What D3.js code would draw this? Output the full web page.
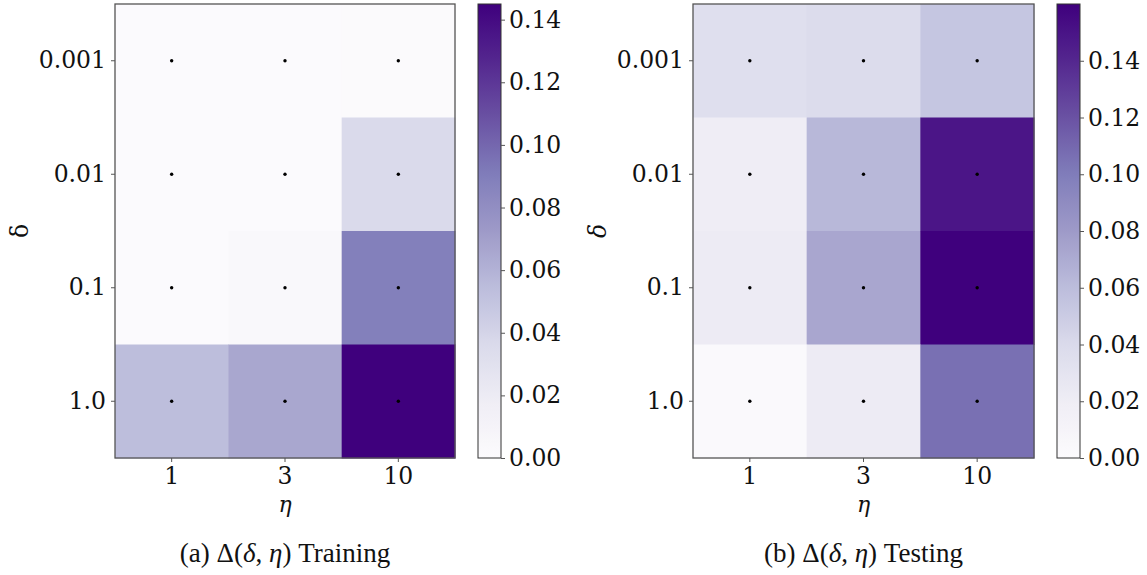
<!DOCTYPE html>
<html><head><meta charset="utf-8">
<script src="https://cdn.jsdelivr.net/npm/d3@7"></script>
<style>
html,body{margin:0;padding:0;background:#fff;}
svg{display:block;}
</style></head>
<body>
<svg id="chart" width="1147" height="575"></svg>
<script>
// ---- data ----
const etaLabels = ["1", "3", "10"];
const deltaLabels = ["0.001", "0.01", "0.1", "1.0"];
const trainValues = [
  [0.0008, 0.0008, 0.0012],
  [0.0008, 0.0008, 0.036],
  [0.0010, 0.0035, 0.089],
  [0.054, 0.066, 0.145]
];
const testValues = [
  [0.035, 0.038, 0.054],
  [0.020, 0.063, 0.149],
  [0.022, 0.073, 0.160],
  [0.003, 0.022, 0.106]
];
const trainTicks = [0.00, 0.02, 0.04, 0.06, 0.08, 0.10, 0.12, 0.14];
const testTicks = [0.00, 0.02, 0.04, 0.06, 0.08, 0.10, 0.12, 0.14];
const trainMax = 0.145;
const testMax = 0.160;
const captionPrefix = ["(a) ", "(b) "];
const captionSuffix = [" Training", " Testing"];

// matplotlib "Purples" (linear segments over colorbrewer 9)
const purples = ["#fcfbfd","#efedf5","#dadaeb","#bcbddc","#9e9ac8","#807dba","#6a51a3","#54278f","#3f007d"];
const purpInterp = d3.piecewise(d3.interpolateRgb, purples);

const svg = d3.select("#chart");
const FONT = "'DejaVu Serif', serif";
const FS = 23.5;

function panel(cfg) {
  const {x0, x1, y0, y1, values, vmax, ticks, cbx0, cbx1, idx, italicDelta} = cfg;
  const g = svg.append("g");
  const xs = d3.scaleBand().domain(etaLabels).range([x0, x1]).padding(0);
  const ys = d3.scaleBand().domain(deltaLabels).range([y0, y1]).padding(0);
  const cs = d3.scaleSequential(purpInterp).domain([0, vmax]).clamp(true);

  const cells = [];
  values.forEach((row, i) => row.forEach((v, j) => cells.push({d: deltaLabels[i], e: etaLabels[j], v})));

  g.selectAll("rect.cell").data(cells).join("rect")
    .attr("x", d => xs(d.e)).attr("y", d => ys(d.d))
    .attr("width", xs.bandwidth() + 0.5).attr("height", ys.bandwidth() + 0.5)
    .attr("fill", d => cs(d.v));

  g.selectAll("circle.dot").data(cells).join("circle")
    .attr("cx", d => xs(d.e) + xs.bandwidth() / 2)
    .attr("cy", d => ys(d.d) + ys.bandwidth() / 2)
    .attr("r", 1.7).attr("fill", "#000");

  // frame
  g.append("rect").attr("x", x0).attr("y", y0).attr("width", x1 - x0).attr("height", y1 - y0)
    .attr("fill", "none").attr("stroke", "#555").attr("stroke-width", 1.3);

  // axes
  const xAxis = d3.axisBottom(xs).tickSize(4).tickPadding(5);
  const gx = g.append("g").attr("transform", `translate(0,${y1})`).call(xAxis);
  const yAxis = d3.axisLeft(ys).tickSize(4).tickPadding(5);
  const gy = g.append("g").attr("transform", `translate(${x0},0)`).call(yAxis);
  [gx, gy].forEach(a => {
    a.select(".domain").remove();
    a.selectAll(".tick line").attr("stroke", "#555").attr("stroke-width", 1);
    a.selectAll(".tick text").attr("font-family", FONT).attr("font-size", FS).attr("fill", "#111");
  });

  // axis labels
  g.append("text").attr("x", (x0 + x1) / 2).attr("y", 512)
    .attr("text-anchor", "middle").attr("font-family", FONT).attr("font-style", "italic")
    .attr("font-size", 22).attr("fill", "#111").text("η");
  g.append("text").attr("transform", `translate(${x0 - 87},${(y0 + y1) / 2}) rotate(-90)`)
    .attr("text-anchor", "middle").attr("font-family", FONT)
    .attr("font-style", italicDelta ? "italic" : "normal")
    .attr("font-size", FS).attr("fill", "#111").text("δ");

  // colorbar
  const gid = "cbgrad" + idx;
  const grad = svg.append("defs").append("linearGradient").attr("id", gid)
    .attr("x1", 0).attr("y1", 1).attr("x2", 0).attr("y2", 0);
  d3.range(0, 1.0001, 0.02).forEach(t => grad.append("stop").attr("offset", t).attr("stop-color", purpInterp(t)));
  g.append("rect").attr("x", cbx0).attr("y", y0).attr("width", cbx1 - cbx0).attr("height", y1 - y0)
    .attr("fill", `url(#${gid})`).attr("stroke", "#333").attr("stroke-width", 1);
  const cbScale = d3.scaleLinear().domain([0, vmax]).range([y1, y0]);
  const cbAxis = d3.axisRight(cbScale).tickValues(ticks).tickFormat(d3.format(".2f")).tickSize(4).tickPadding(4);
  const gc = g.append("g").attr("transform", `translate(${cbx1},0)`).call(cbAxis);
  gc.select(".domain").remove();
  gc.selectAll(".tick line").attr("stroke", "#555");
  gc.selectAll(".tick text").attr("font-family", FONT).attr("font-size", FS).attr("fill", "#111");

  // caption
  const cap = g.append("text").attr("x", (x0 + x1) / 2).attr("y", 562)
    .attr("text-anchor", "middle").attr("font-family", "'Liberation Serif', serif")
    .attr("font-size", 27).attr("fill", "#111");
  cap.append("tspan").text(captionPrefix[idx] + "Δ(");
  cap.append("tspan").attr("font-style", "italic").text("δ");
  cap.append("tspan").text(", ");
  cap.append("tspan").attr("font-style", "italic").text("η");
  cap.append("tspan").text(")" + captionSuffix[idx]);
}

panel({x0: 115, x1: 455, y0: 4, y1: 458, values: trainValues, vmax: trainMax, ticks: trainTicks,
  cbx0: 478, cbx1: 501, idx: 0, italicDelta: false});
panel({x0: 693, x1: 1034, y0: 4, y1: 458, values: testValues, vmax: testMax, ticks: testTicks,
  cbx0: 1057, cbx1: 1080, idx: 1, italicDelta: true});
</script>
</body></html>
